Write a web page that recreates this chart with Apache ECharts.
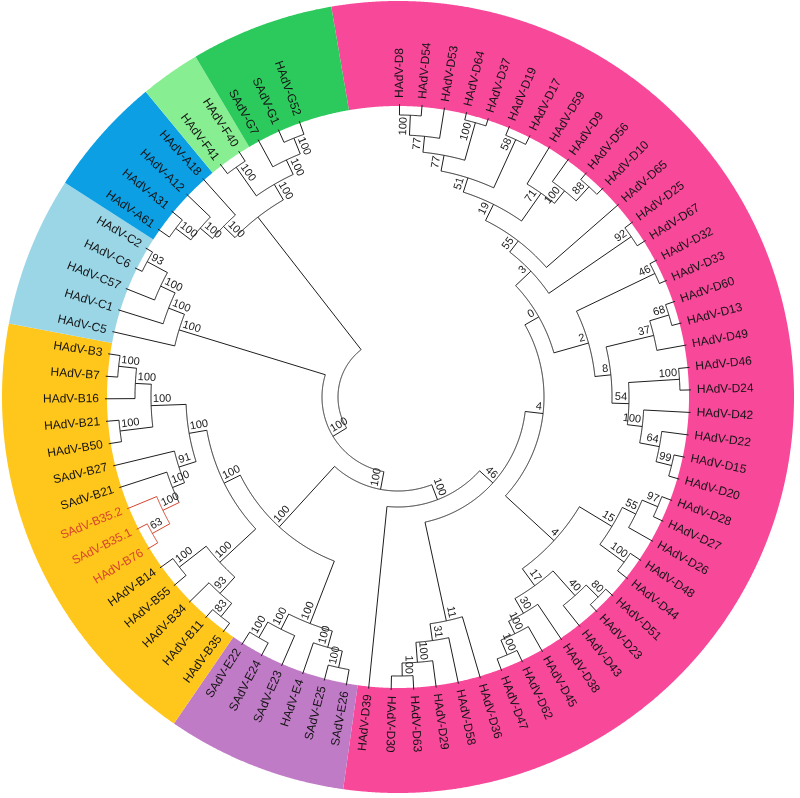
<!DOCTYPE html>
<html>
<head>
<meta charset="utf-8">
<title>Adenovirus circular tree</title>
<style>
  html, body { margin: 0; padding: 0; background: #fff; }
  #chart { width: 800px; height: 798px; }
</style>
<script src="https://cdn.jsdelivr.net/npm/echarts/dist/echarts.min.js"></script>
</head>
<body>
<div id="chart"></div>
<script>
// tips in clockwise order, starting at the top
var tips = [
  'HAdV-D8', 'HAdV-D54', 'HAdV-D53', 'HAdV-D64', 'HAdV-D37', 'HAdV-D19', 'HAdV-D17', 'HAdV-D59',
  'HAdV-D9', 'HAdV-D56', 'HAdV-D10', 'HAdV-D65', 'HAdV-D25', 'HAdV-D67', 'HAdV-D32', 'HAdV-D33',
  'HAdV-D60', 'HAdV-D13', 'HAdV-D49', 'HAdV-D46', 'HAdV-D24', 'HAdV-D42', 'HAdV-D22', 'HAdV-D15',
  'HAdV-D20', 'HAdV-D28', 'HAdV-D27', 'HAdV-D26', 'HAdV-D48', 'HAdV-D44', 'HAdV-D51', 'HAdV-D23',
  'HAdV-D43', 'HAdV-D38', 'HAdV-D45', 'HAdV-D62', 'HAdV-D47', 'HAdV-D36', 'HAdV-D58', 'HAdV-D29',
  'HAdV-D63', 'HAdV-D30', 'HAdV-D39',
  'SAdV-E26', 'SAdV-E25', 'HAdV-E4', 'SAdV-E23', 'SAdV-E24', 'SAdV-E22',
  'HAdV-B35', 'HAdV-B11', 'HAdV-B34', 'HAdV-B55', 'HAdV-B14', 'HAdV-B76', 'SAdV-B35.1', 'SAdV-B35.2',
  'SAdV-B21', 'SAdV-B27', 'HAdV-B50', 'HAdV-B21', 'HAdV-B16', 'HAdV-B7', 'HAdV-B3',
  'HAdV-C5', 'HAdV-C1', 'HAdV-C57', 'HAdV-C6', 'HAdV-C2',
  'HAdV-A61', 'HAdV-A31', 'HAdV-A12', 'HAdV-A18',
  'HAdV-F41', 'HAdV-F40',
  'SAdV-G7', 'SAdV-G1', 'HAdV-G52'
];

var redTips = ['HAdV-B76', 'SAdV-B35.1', 'SAdV-B35.2'];

// internal nodes: [id, child, child, depth from centre, bootstrap]
var nodes = [
  ['d1', 'HAdV-D8', 'HAdV-D54', 282, '100'],
  ['d2', 'd1', 'HAdV-D53', 262, '77'],
  ['d3', 'HAdV-D64', 'HAdV-D37', 285, '100'],
  ['d4', 'd2', 'd3', 246, '77'],
  ['d5', 'HAdV-D19', 'HAdV-D17', 283, '58'],
  ['d6', 'd4', 'd5', 230, '51'],
  ['d7', 'HAdV-D56', 'HAdV-D10', 284, '88'],
  ['d8', 'HAdV-D9', 'd7', 265, '100'],
  ['d9', 'HAdV-D59', 'd8', 249, '71'],
  ['d10', 'd6', 'd9', 215, '19'],
  ['d11', 'd10', 'HAdV-D65', 197, '55'],
  ['d12', 'HAdV-D25', 'HAdV-D67', 283, '92'],
  ['d13', 'd11', 'd12', 183, '3'],
  ['d14', 'HAdV-D32', 'HAdV-D33', 285, '46'],
  ['d15', 'HAdV-D60', 'HAdV-D13', 283, '68'],
  ['d16', 'd15', 'HAdV-D49', 263, '37'],
  ['d17', 'HAdV-D46', 'HAdV-D24', 282, '100'],
  ['d18', 'HAdV-D15', 'HAdV-D20', 282, '99'],
  ['d19', 'HAdV-D22', 'd18', 266, '64'],
  ['d20', 'HAdV-D42', 'd19', 246, '100'],
  ['d21', 'd17', 'd20', 231, '54'],
  ['d22', 'd16', 'd21', 214, '8'],
  ['d23', 'd14', 'd22', 198, '2'],
  ['d24', 'd13', 'd23', 162, '0'],
  ['d25', 'HAdV-D28', 'HAdV-D27', 282, '97'],
  ['d26', 'd25', 'HAdV-D26', 265, '55'],
  ['d27', 'HAdV-D48', 'HAdV-D44', 280, '100'],
  ['d28', 'd26', 'd27', 250, '15'],
  ['d29', 'HAdV-D51', 'HAdV-D23', 283, '80'],
  ['d30', 'd29', 'HAdV-D43', 266, '40'],
  ['d31', 'HAdV-D62', 'HAdV-D47', 280, '100'],
  ['d32', 'HAdV-D45', 'd31', 264, '100'],
  ['d33', 'HAdV-D38', 'd32', 250, '30'],
  ['d34', 'd30', 'd33', 233, '17'],
  ['d35', 'd28', 'd34', 212, '4'],
  ['d36', 'd24', 'd35', 146, '4'],
  ['d37', 'HAdV-D63', 'HAdV-D30', 279, '100'],
  ['d38', 'HAdV-D29', 'd37', 266, '100'],
  ['d39', 'HAdV-D58', 'd38', 246, '31'],
  ['d40', 'HAdV-D36', 'd39', 229, '11'],
  ['d41', 'd36', 'd40', 128, '46'],
  ['d42', 'd41', 'HAdV-D39', 110, '100'],
  ['e1', 'SAdV-E26', 'SAdV-E25', 277, '100'],
  ['e2', 'HAdV-E4', 'e1', 260, '100'],
  ['e3', 'SAdV-E24', 'SAdV-E22', 278, '100'],
  ['e4', 'SAdV-E23', 'e3', 260, '100'],
  ['e5', 'e2', 'e4', 243, '100'],
  ['b1', 'HAdV-B7', 'HAdV-B3', 281, '100'],
  ['b2', 'HAdV-B16', 'b1', 263, '100'],
  ['b3', 'HAdV-B50', 'HAdV-B21', 280, '100'],
  ['b4', 'b3', 'b2', 247, '100'],
  ['b5', 'HAdV-B76', 'SAdV-B35.1', 281, '63'],
  ['b6', 'b5', 'SAdV-B35.2', 261, '100'],
  ['b7', 'b6', 'SAdV-B21', 243, '100'],
  ['b8', 'b7', 'SAdV-B27', 230, '91'],
  ['b9', 'b8', 'b4', 212, '100'],
  ['b10', 'HAdV-B35', 'HAdV-B11', 282, '83'],
  ['b11', 'b10', 'HAdV-B34', 265, '93'],
  ['b12', 'HAdV-B55', 'HAdV-B14', 277, '100'],
  ['b13', 'b11', 'b12', 243, '100'],
  ['b14', 'b13', 'b9', 194, '100'],
  ['be', 'e5', 'b14', 176, '100'],
  ['y', 'd42', 'be', 94, '100'],
  ['c1', 'HAdV-C6', 'HAdV-C2', 285, '93'],
  ['c2', 'HAdV-C57', 'c1', 262, '100'],
  ['c3', 'HAdV-C1', 'c2', 246, '100'],
  ['c4', 'HAdV-C5', 'c3', 229, '100'],
  ['x', 'y', 'c4', 76, '100'],
  ['a1', 'HAdV-A61', 'HAdV-A31', 279, '100'],
  ['a2', 'a1', 'HAdV-A12', 260, '100'],
  ['a3', 'a2', 'HAdV-A18', 244, '100'],
  ['f1', 'HAdV-F41', 'HAdV-F40', 281, '100'],
  ['g1', 'SAdV-G1', 'HAdV-G52', 279, '100'],
  ['g2', 'SAdV-G7', 'g1', 262, '100'],
  ['fg', 'f1', 'g2', 246, '100'],
  ['afg', 'a3', 'fg', 228, ''],
  ['root', 'x', 'afg', 60, '']
];

// coloured ring: [group, first tip, last tip, colour]
var clades = [
  ['D', 'HAdV-D8', 'HAdV-D39', '#f7489a'],
  ['E', 'SAdV-E26', 'SAdV-E22', '#c07bc6'],
  ['B', 'HAdV-B35', 'HAdV-B3', '#ffc61c'],
  ['C', 'HAdV-C5', 'HAdV-C2', '#9bd6e7'],
  ['A', 'HAdV-A61', 'HAdV-A18', '#0c9fe4'],
  ['F', 'HAdV-F41', 'HAdV-F40', '#87ef92'],
  ['G', 'SAdV-G7', 'HAdV-G52', '#2cc95c']
];

var tipDepth = 293;
var labelDepth = 299;
var ringInner = 291;
var ringOuter = 396;
var arcSpan = 340;   // degrees covered by the tips, the rest is the gap at the top

var lineColor = '#1e1e1e';
var redColor = '#d6452e';
var font = '"Liberation Sans", Arial, sans-serif';

// ---- build layout values from the tree ----
var period = (tips.length - 1) * 360 / arcSpan;
var pos = {}, depth = {}, parentOf = {}, isRed = {}, kids = {};
tips.forEach(function (t, i) {
  pos[t] = i;
  depth[t] = tipDepth;
  isRed[t] = redTips.indexOf(t) >= 0;
});
nodes.forEach(function (n) {
  var a = n[1], b = n[2];
  pos[n[0]] = (pos[a] + pos[b]) / 2;
  depth[n[0]] = n[3];
  parentOf[a] = n[0];
  parentOf[b] = n[0];
  isRed[n[0]] = isRed[a] && isRed[b];
  kids[n[0]] = [a, b];
});

var branchData = [];
Object.keys(pos).forEach(function (k) {
  if (!parentOf[k]) return;
  branchData.push([depth[parentOf[k]], pos[k], depth[k], isRed[k] ? 1 : 0]);
});

var arcData = nodes.map(function (n) {
  var p1 = pos[n[1]], p2 = pos[n[2]];
  return [n[3], Math.min(p1, p2), Math.max(p1, p2), isRed[n[0]] ? 1 : 0];
});

var tipData = tips.map(function (t) { return [labelDepth, pos[t]]; });

var supportData = nodes.filter(function (n) { return n[4] !== ''; })
  .map(function (n) { return [n[3], pos[n[0]]]; });
var supportText = nodes.filter(function (n) { return n[4] !== ''; })
  .map(function (n) { return n[4]; });

var sectorData = clades.map(function (c) {
  var first = pos[c[1]], last = pos[c[2]];
  var prev = first === 0 ? (tips.length - 1) - period : first - 1;
  var next = last === tips.length - 1 ? period : last + 1;
  return [(first + prev) / 2, (last + next) / 2];
});

// ---- helpers ----
function orient(api, r, a) {
  var p = api.coord([r, a]);
  var c = api.coord([0, a]);
  var ux = p[0] - c[0], uy = p[1] - c[1];
  var deg = (Math.atan2(ux, -uy) * 180 / Math.PI + 360) % 360;
  var flip = deg > 182;
  var rot = flip ? Math.atan2(uy, -ux) : Math.atan2(-uy, ux);
  return { p: p, flip: flip, rot: rot };
}

function arcPoints(api, r, lo, hi) {
  var pts = [];
  var steps = Math.max(2, Math.ceil((hi - lo) / 0.04));
  for (var k = 0; k <= steps; k++) {
    pts.push(api.coord([r, lo + (hi - lo) * k / steps]));
  }
  return pts;
}

var chart = echarts.init(document.getElementById('chart'));

var option = {
  animation: false,
  backgroundColor: '#ffffff',
  polar: { center: [398, 397], radius: ringOuter },
  angleAxis: {
    type: 'value', min: 0, max: period, startAngle: 89.7, clockwise: true,
    axisLine: { show: false }, axisTick: { show: false },
    axisLabel: { show: false }, splitLine: { show: false }
  },
  radiusAxis: {
    type: 'value', min: 0, max: ringOuter,
    axisLine: { show: false }, axisTick: { show: false },
    axisLabel: { show: false }, splitLine: { show: false }
  },
  series: [
    {
      name: 'groups',
      type: 'custom',
      coordinateSystem: 'polar',
      silent: true,
      data: sectorData,
      renderItem: function (params, api) {
        var lo = api.value(0), hi = api.value(1);
        var outer = arcPoints(api, ringOuter, lo, hi);
        var inner = arcPoints(api, ringInner, lo, hi).reverse();
        return {
          type: 'polygon',
          shape: { points: outer.concat(inner) },
          style: { fill: clades[params.dataIndex][3] }
        };
      }
    },
    {
      name: 'arcs',
      type: 'custom',
      coordinateSystem: 'polar',
      silent: true,
      data: arcData,
      renderItem: function (params, api) {
        return {
          type: 'polyline',
          shape: { points: arcPoints(api, api.value(0), api.value(1), api.value(2)) },
          style: { stroke: api.value(3) ? redColor : lineColor, lineWidth: 1, fill: null }
        };
      }
    },
    {
      name: 'branches',
      type: 'custom',
      coordinateSystem: 'polar',
      silent: true,
      data: branchData,
      renderItem: function (params, api) {
        var p0 = api.coord([api.value(0), api.value(1)]);
        var p1 = api.coord([api.value(2), api.value(1)]);
        return {
          type: 'line',
          shape: { x1: p0[0], y1: p0[1], x2: p1[0], y2: p1[1] },
          style: { stroke: api.value(3) ? redColor : lineColor, lineWidth: 1 }
        };
      }
    },
    {
      name: 'support',
      type: 'custom',
      coordinateSystem: 'polar',
      silent: true,
      data: supportData,
      renderItem: function (params, api) {
        var o = orient(api, api.value(0) - 2, api.value(1));
        return {
          type: 'text',
          x: o.p[0], y: o.p[1], rotation: o.rot,
          style: {
            text: supportText[params.dataIndex],
            x: 0, y: -1,
            align: o.flip ? 'left' : 'right',
            verticalAlign: 'bottom',
            font: '11px ' + font,
            fill: '#1a1a1a'
          }
        };
      }
    },
    {
      name: 'tips',
      type: 'custom',
      coordinateSystem: 'polar',
      silent: true,
      data: tipData,
      renderItem: function (params, api) {
        var o = orient(api, api.value(0), api.value(1));
        var name = tips[params.dataIndex];
        return {
          type: 'text',
          x: o.p[0], y: o.p[1], rotation: o.rot,
          style: {
            text: name,
            align: o.flip ? 'right' : 'left',
            verticalAlign: 'middle',
            font: '12px ' + font,
            fill: redTips.indexOf(name) >= 0 ? redColor : '#141414'
          }
        };
      }
    }
  ]
};

option && chart.setOption(option);
</script>
</body>
</html>
